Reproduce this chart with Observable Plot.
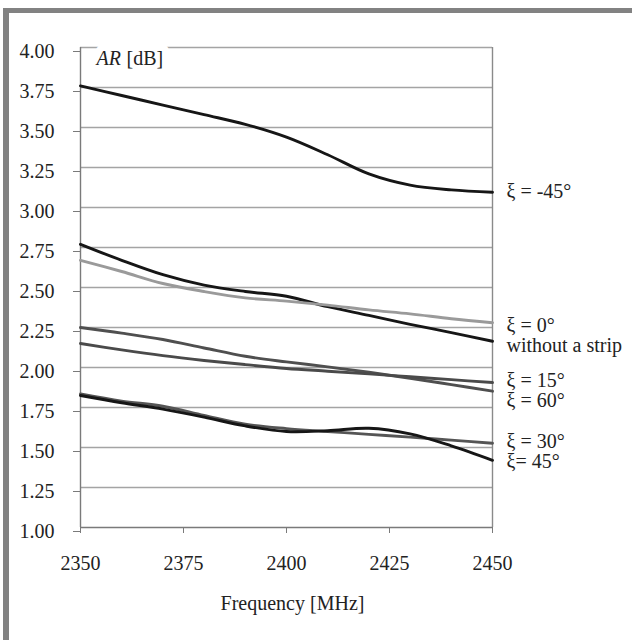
<!DOCTYPE html>
<html>
<head>
<meta charset="utf-8">
<script src="https://cdn.jsdelivr.net/npm/d3@7"></script>
<script src="https://cdn.jsdelivr.net/npm/@observablehq/plot@0.6"></script>
<style>
  html, body { margin: 0; padding: 0; background: #fff; }
  #wrap { position: relative; width: 632px; height: 640px; overflow: hidden; }
  #frame { position: absolute; left: 3px; top: 8px; width: 629px; height: 632px;
           box-sizing: border-box; border-top: 5px solid #828282; border-left: 6px solid #828282; }
  #chart { position: absolute; left: 0; top: 0; }
  #chart svg, #chart svg text, #chart svg g { font-family: "Liberation Serif", "Times New Roman", serif !important; }
</style>
</head>
<body>
<div id="wrap"><div id="frame"></div><div id="chart"></div></div>
<script>
// Frequency samples (MHz)
const freq = [2350, 2360, 2370, 2380, 2390, 2400, 2410, 2420, 2430, 2440, 2450];

// Axial ratio AR [dB] per configuration
const arM45     = [3.76, 3.70, 3.64, 3.58, 3.52, 3.44, 3.33, 3.21, 3.14, 3.11, 3.095];
const arNoStrip = [2.77, 2.67, 2.58, 2.515, 2.475, 2.445, 2.38, 2.326, 2.27, 2.218, 2.164];
const ar0       = [2.67, 2.60, 2.525, 2.475, 2.435, 2.415, 2.39, 2.36, 2.335, 2.305, 2.28];
const ar60      = [2.25, 2.215, 2.175, 2.122, 2.07, 2.035, 2.004, 1.97, 1.933, 1.893, 1.852];
const ar15      = [2.15, 2.11, 2.074, 2.044, 2.018, 1.994, 1.977, 1.96, 1.942, 1.924, 1.906];
const ar30      = [1.835, 1.79, 1.758, 1.70, 1.645, 1.618, 1.60, 1.582, 1.565, 1.546, 1.527];
const ar45      = [1.825, 1.78, 1.74, 1.69, 1.635, 1.60, 1.605, 1.62, 1.585, 1.51, 1.42];

const seriesKeys   = ["-45", "nostrip", "0", "60", "15", "30", "45"];
const seriesValues = [arM45, arNoStrip, ar0, ar60, ar15, ar30, ar45];
const seriesColors = ["#161616", "#161616", "#9a9a9a", "#4f4f4f", "#4a4a4a", "#555555", "#161616"];

// Right-hand labels (stacked blocks) and their vertical centres (in AR units)
const labelTexts = ["ξ = -45°", "ξ = 0°\nwithout a strip", "ξ = 15°\nξ = 60°", "ξ = 30°\nξ= 45°"];
const labelY     = [3.10, 2.197, 1.856, 1.475];

const yTicks = [1.00, 1.25, 1.50, 1.75, 2.00, 2.25, 2.50, 2.75, 3.00, 3.25, 3.50, 3.75, 4.00];
const xTicks = [2350, 2375, 2400, 2425, 2450];

const rows = [];
seriesKeys.forEach((k, i) => {
  freq.forEach((f, j) => rows.push({series: k, f, ar: seriesValues[i][j], color: seriesColors[i]}));
});
const fEnd = freq[freq.length - 1];
const labelRows = labelTexts.map((t, i) => ({text: t, y: labelY[i], f: fEnd}));

const font = "'Liberation Serif', 'Times New Roman', serif";

const chart = Plot.plot({
  width: 632,
  height: 640,
  marginLeft: 80,
  marginRight: 140,
  marginTop: 47,
  marginBottom: 113,
  style: {fontFamily: font, fontSize: "20px", color: "#222", background: "transparent"},
  x: {domain: [2350, 2450]},
  y: {domain: [1, 4]},
  marks: [
    Plot.ruleY(yTicks.slice(1), {stroke: "#a4a4a4", strokeWidth: 1.4}),
    Plot.ruleX([2450], {stroke: "#8a8a8a", strokeWidth: 1.4}),
    Plot.ruleX([2350], {stroke: "#7a7a7a", strokeWidth: 1.4}),
    Plot.ruleY([1], {stroke: "#7a7a7a", strokeWidth: 1.4}),
    Plot.axisY({ticks: yTicks, tickSize: 7, tickPadding: 19, tickFormat: d3.format(".2f"), stroke: "#7a7a7a", fill: "#222", label: null, dy: 4, fontSize: 20, fontFamily: font}),
    Plot.axisX({ticks: xTicks, tickSize: 6, tickPadding: 22, tickFormat: d => String(d), stroke: "#7a7a7a", fill: "#222", label: null, fontSize: 20, fontFamily: font}),
    Plot.line(rows, {x: "f", y: "ar", z: "series", stroke: "color", strokeWidth: 2.9, curve: "catmull-rom"}),
    Plot.text(["AR"], {frameAnchor: "top-left", dx: 16, dy: 11, textAnchor: "start", lineAnchor: "middle", fontStyle: "italic", fontSize: 20, fontFamily: font, fill: "#222", stroke: "white", strokeWidth: 14}),
    Plot.text(["[dB]"], {frameAnchor: "top-left", dx: 46, dy: 11, textAnchor: "start", lineAnchor: "middle", fontSize: 20, fontFamily: font, fill: "#222", stroke: "white", strokeWidth: 14}),
    Plot.text(labelRows, {x: "f", y: "y", text: "text", dx: 14, textAnchor: "start", lineAnchor: "middle", lineHeight: 1.0, fontSize: 20, fontFamily: font, fill: "#222"}),
    Plot.text(["Frequency [MHz]"], {frameAnchor: "bottom", dx: 6, dy: 76, lineAnchor: "middle", fontSize: 20, fontFamily: font, fill: "#222"})
  ]
});
document.getElementById("chart").appendChild(chart);
</script>
</body>
</html>
